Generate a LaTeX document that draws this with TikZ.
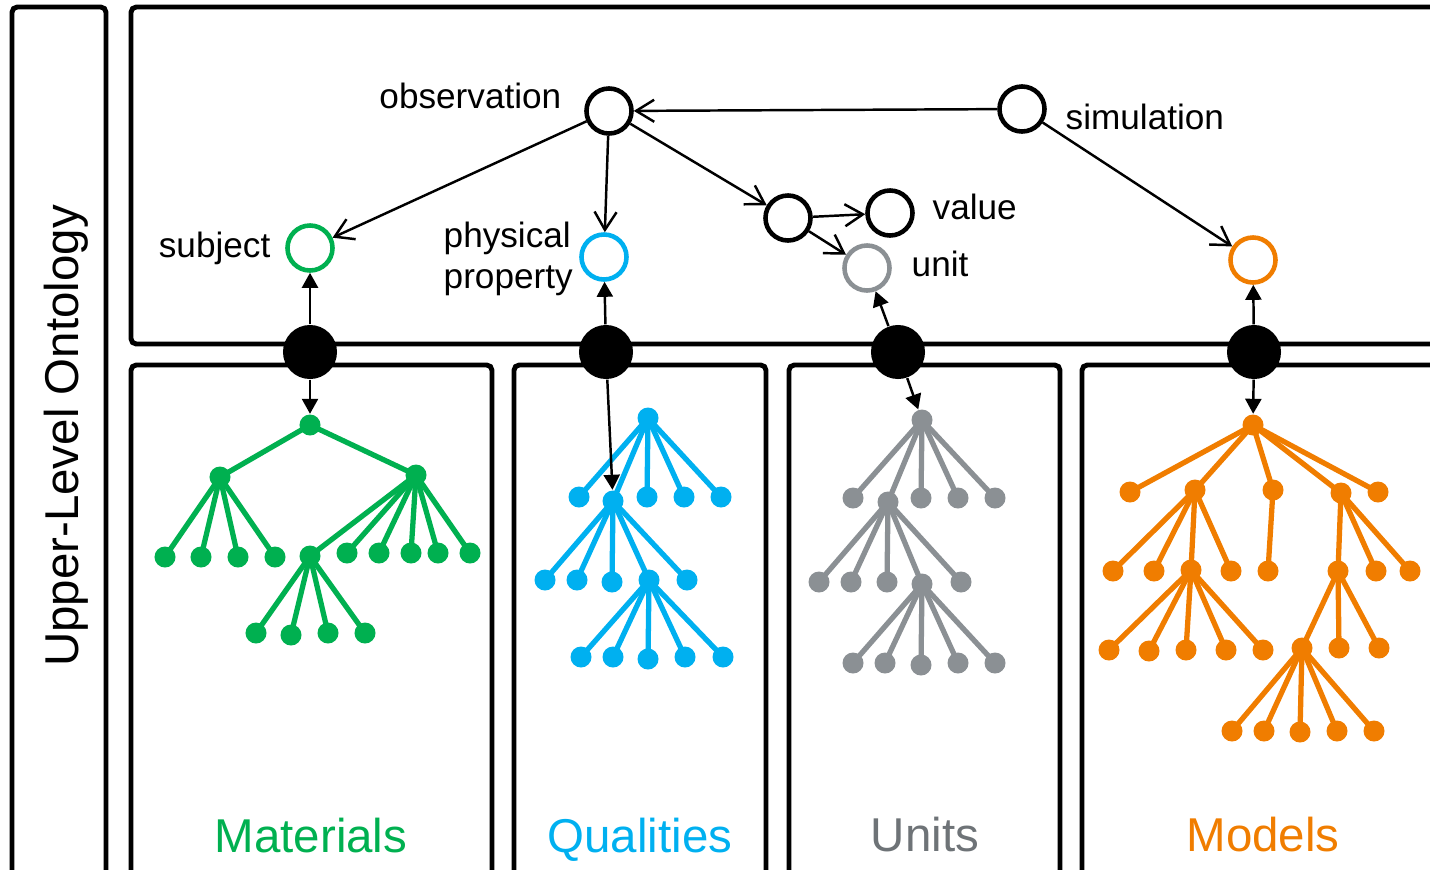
\documentclass[tikz,border=0pt]{standalone}
\usepackage{fontspec}
\setmainfont{Liberation Sans}
\usetikzlibrary{arrows.meta}
\definecolor{ONTGreen}{HTML}{00B050}
\definecolor{ONTBlue}{HTML}{00B0F0}
\definecolor{ONTGray}{HTML}{8B9094}
\definecolor{ONTGrayText}{HTML}{6E7377}
\definecolor{ONTOrange}{HTML}{F07D00}
\tikzset{
ontframe/.style={draw=black, line width=1.4pt, rounded corners=1.5pt},
ontclass/.style={circle, draw=#1, line width=1.3pt, minimum size=4.5mm, inner sep=0pt},
onthub/.style={circle, fill=black, minimum size=5.4mm, inner sep=0pt},
ontleaf/.style={circle, fill=#1, minimum size=2.1mm, inner sep=0pt},
ontbranch/.style={draw=#1, line width=1.5pt},
ontlabel/.style={inner sep=0pt, font=\fontsize{10}{11.8}\selectfont},
ontbig/.style={inner sep=0pt, font=\fontsize{13.5}{16}\selectfont},
ontopen/.style={-{Straight Barb[length=1.8mm, width=2.2mm]}, line width=0.7pt},
ontfilled/.style={-{Triangle[length=1.5mm, width=1.6mm]}, line width=0.7pt}
}

\begin{document}
\begin{tikzpicture}[x=0.01cm, y=-0.01cm]
\useasboundingbox (0,0) rectangle (1430,869);
\clip (0,0) rectangle (1430,869);

\draw[ontframe] (12,7) rectangle (106,885);
\draw[ontframe] (131,7) rectangle (1450,344);
\draw[ontframe] (131,365) rectangle (492,885);
\draw[ontframe] (514,365) rectangle (766,885);
\draw[ontframe] (789,365) rectangle (1060,885);
\draw[ontframe] (1082,365) rectangle (1450,885);

\node[ontbig, rotate=90, anchor=base] (upper) at (78,436) {Upper-Level Ontology};
\node[ontbig, anchor=base, text=ONTGreen] (matlbl) at (311,852) {Materials};
\node[ontbig, anchor=base, text=ONTBlue] (quallbl) at (640,852) {Qualities};
\node[ontbig, anchor=base, text=ONTGrayText] (unitlbl) at (925,851) {Units};
\node[ontbig, anchor=base, text=ONTOrange] (modellbl) at (1263,851) {Models};

\foreach \n/\x/\y in {m0/310/425, m1/220/477, m2/416/475, m3/165/557, m4/201/557,
  m5/238/557, m6/275/557, m7/310/556, m8/347/553, m9/379/553, m10/411/553,
  m11/438/553, m12/470/553, m13/256/633, m14/291/635, m15/328/633, m16/365/633}
  \node[ontleaf=ONTGreen] (\n) at (\x,\y) {};
\foreach \a/\b in {m0/m1, m0/m2, m1/m3, m1/m4, m1/m5, m1/m6, m2/m7, m2/m8, m2/m9,
  m2/m10, m2/m11, m2/m12, m7/m13, m7/m14, m7/m15, m7/m16}
  \draw[ontbranch=ONTGreen] (\a.center) -- (\b.center);

\foreach \n/\x/\y in {q0/648/418, q1/579/497, q2/613/501, q3/647/497, q4/684/497,
  q5/721/497, q6/545/580, q7/577/580, q8/612/582, q9/649/580, q10/687/580,
  q11/581/657, q12/613/657, q13/648/659, q14/685/657, q15/723/657}
  \node[ontleaf=ONTBlue] (\n) at (\x,\y) {};
\foreach \a/\b in {q0/q1, q0/q2, q0/q3, q0/q4, q0/q5, q2/q6, q2/q7, q2/q8, q2/q9,
  q2/q10, q9/q11, q9/q12, q9/q13, q9/q14, q9/q15}
  \draw[ontbranch=ONTBlue] (\a.center) -- (\b.center);

\foreach \n/\x/\y in {u0/922/420, u1/853/498, u2/888/502, u3/921/498, u4/958/498,
  u5/995/498, u6/819/582, u7/851/582, u8/887/582, u9/922/584, u10/961/582,
  u11/853/663, u12/885/663, u13/921/665, u14/958/663, u15/995/663}
  \node[ontleaf=ONTGray] (\n) at (\x,\y) {};
\foreach \a/\b in {u0/u1, u0/u2, u0/u3, u0/u4, u0/u5, u2/u6, u2/u7, u2/u8, u2/u9,
  u2/u10, u9/u11, u9/u12, u9/u13, u9/u14, u9/u15}
  \draw[ontbranch=ONTGray] (\a.center) -- (\b.center);

\foreach \n/\x/\y in {o0/1253/425, o1/1130/492, o2/1195/490, o3/1273/490,
  o4/1341/493, o5/1378/492, o6/1113/571, o7/1154/571, o8/1191/570, o9/1231/571,
  o10/1268/571, o11/1338/571, o12/1376/571, o13/1410/571, o14/1109/650,
  o15/1149/651, o16/1186/650, o17/1226/650, o18/1263/650, o19/1302/648,
  o20/1339/648, o21/1379/648, o22/1232/731, o23/1264/731, o24/1300/732,
  o25/1337/731, o26/1374/731}
  \node[ontleaf=ONTOrange] (\n) at (\x,\y) {};
\foreach \a/\b in {o0/o1, o0/o2, o0/o3, o0/o4, o0/o5, o2/o6, o2/o7, o2/o8, o2/o9,
  o3/o10, o4/o11, o4/o12, o4/o13, o8/o14, o8/o15, o8/o16, o8/o17, o8/o18,
  o11/o19, o11/o20, o11/o21, o19/o22, o19/o23, o19/o24, o19/o25, o19/o26}
  \draw[ontbranch=ONTOrange] (\a.center) -- (\b.center);

\node[ontclass=black] (obs) at (609,111) {};
\node[ontclass=black] (sim) at (1022,109) {};
\node[ontclass=ONTGreen] (subj) at (310,248) {};
\node[ontclass=ONTBlue] (prop) at (604,257) {};
\node[ontclass=black] (meas) at (788,218) {};
\node[ontclass=black] (val) at (890,213) {};
\node[ontclass=ONTGray] (unit) at (867,268) {};
\node[ontclass=ONTOrange] (model) at (1253,260) {};

\node[ontlabel, anchor=base east] (obstxt) at (562,108) {observation};
\node[ontlabel, anchor=base west] (simtxt) at (1065,129) {simulation};
\node[ontlabel, anchor=base east] (subjtxt) at (271,257) {subject};
\node[ontlabel, anchor=west, align=left] (proptxt) at (443,259) {physical\\property};
\node[ontlabel, anchor=base west] (valtxt) at (932,219) {value};
\node[ontlabel, anchor=base west] (unittxt) at (911,276) {unit};

\node[onthub] (hmat) at (310,352) {};
\node[onthub] (hqual) at (606,352) {};
\node[onthub] (hunit) at (898,352) {};
\node[onthub] (hmodel) at (1254,352) {};

\draw[ontopen] (sim) -- (obs);
\draw[ontopen] (obs) -- (subj);
\draw[ontopen] (obs) -- (prop);
\draw[ontopen] (obs) -- (meas);
\draw[ontopen] (meas) -- (val);
\draw[ontopen] (meas) -- (unit);
\draw[ontopen] (sim) -- (model);

\draw[ontfilled] (hmat) -- (subj);
\draw[ontfilled] (hmat) -- (m0);
\draw[ontfilled] (hqual) -- (prop);
\draw[ontfilled] (hqual) -- (q2);
\draw[ontfilled] (hunit) -- (unit);
\draw[ontfilled] (hunit) -- (u0);
\draw[ontfilled] (hmodel) -- (model);
\draw[ontfilled] (hmodel) -- (o0);
\end{tikzpicture}
\end{document}
